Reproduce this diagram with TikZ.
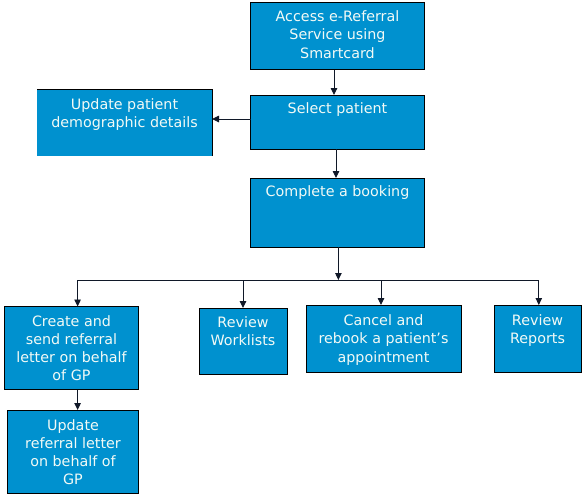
\documentclass[tikz,border=0pt]{standalone}
\usepackage{fontspec}
\setmainfont{DejaVu Sans}
\usetikzlibrary{arrows.meta}
\definecolor{boxblue}{HTML}{0091CF}
\definecolor{linecol}{HTML}{101828}
\definecolor{txtcol}{HTML}{F2FAF6}
\tikzset{
  box/.style={fill=boxblue, draw=black, line width=0.9pt, anchor=north west, inner sep=0pt, outer sep=0pt},
  boxnb/.style={fill=boxblue, anchor=north west, inner sep=0pt, outer sep=0pt},
  txt/.style={text=txtcol, align=center, inner sep=0pt, anchor=north, font=\fontsize{14.3}{18.3}\selectfont},
  conn/.style={draw=linecol, line width=0.9pt},
  arr/.style={conn, -{Triangle[length=7pt,width=6.5pt]}}
}
\begin{document}
\begin{tikzpicture}[x=1pt,y=-1pt]
\useasboundingbox (0,0) rectangle (583,495);
% boxes
\node[box, minimum width=174, minimum height=67] (a) at (250.5,2.5) {};
\node[box, minimum width=174, minimum height=54] (b) at (250.5,95) {};
\node[box, minimum width=174, minimum height=69] (c) at (250.5,178) {};
\node[boxnb, minimum width=175, minimum height=67] (d) at (37,89) {};
\draw[black, line width=0.9pt] (d.north west) -- (d.north east) -- (d.south east);
\node[box, minimum width=134, minimum height=83] (e) at (4.5,306.5) {};
\node[box, minimum width=131, minimum height=83] (f) at (7.5,410) {};
\node[box, minimum width=88, minimum height=66] (g) at (199,308) {};
\node[box, minimum width=155, minimum height=67] (h) at (306,305) {};
\node[box, minimum width=87, minimum height=67] (i) at (494,305) {};
% texts
\node[txt] (ta) at ([yshift=-8pt]a.north) {Access e-Referral\\Service using\\Smartcard};
\node[txt] (tb) at ([yshift=-7pt]b.north) {Select patient};
\node[txt] (tc) at ([yshift=-7pt]c.north) {Complete a booking};
\node[txt] (td) at ([yshift=-9.5pt]d.north) {Update patient\\demographic details};
\node[txt] (te) at ([yshift=-8.5pt]e.north) {Create and\\send referral\\letter on behalf\\of GP};
\node[txt] (tf) at ([yshift=-9pt]f.north) {Update\\referral letter\\on behalf of\\GP};
\node[txt] (tg) at ([yshift=-8pt]g.north) {Review\\Worklists};
\node[txt] (th) at ([yshift=-9.5pt]h.north) {Cancel and\\rebook a patient’s\\appointment};
\node[txt] (ti) at ([yshift=-9.5pt]i.north) {Review\\Reports};
% connectors
\draw[arr] ([xshift=-3.5pt]a.south) -- ([xshift=-3.5pt]b.north);
\draw[arr] ([xshift=-1.5pt]b.south) -- ([xshift=-1.5pt]c.north);
\draw[arr] ([yshift=3pt]b.west) -- ([yshift=3pt]b.west -| d.east);
\coordinate (busL) at (77.6,280);
\coordinate (busR) at (538.8,280);
\coordinate (busC) at (338.4,280);
\draw[arr] (c.south -| busC) -- (busC);
\draw[conn] (busL) -- (busR);
\draw[arr] (busL) -- (busL |- e.north);
\draw[arr] (g.north |- busL) -- (g.north);
\draw[arr] ([xshift=-2.5pt]h.north |- busL) -- ([xshift=-2.5pt]h.north);
\draw[arr] (busR) -- (busR |- i.north);
\draw[arr] (busL |- e.south) -- (busL |- f.north);
\end{tikzpicture}
\end{document}
